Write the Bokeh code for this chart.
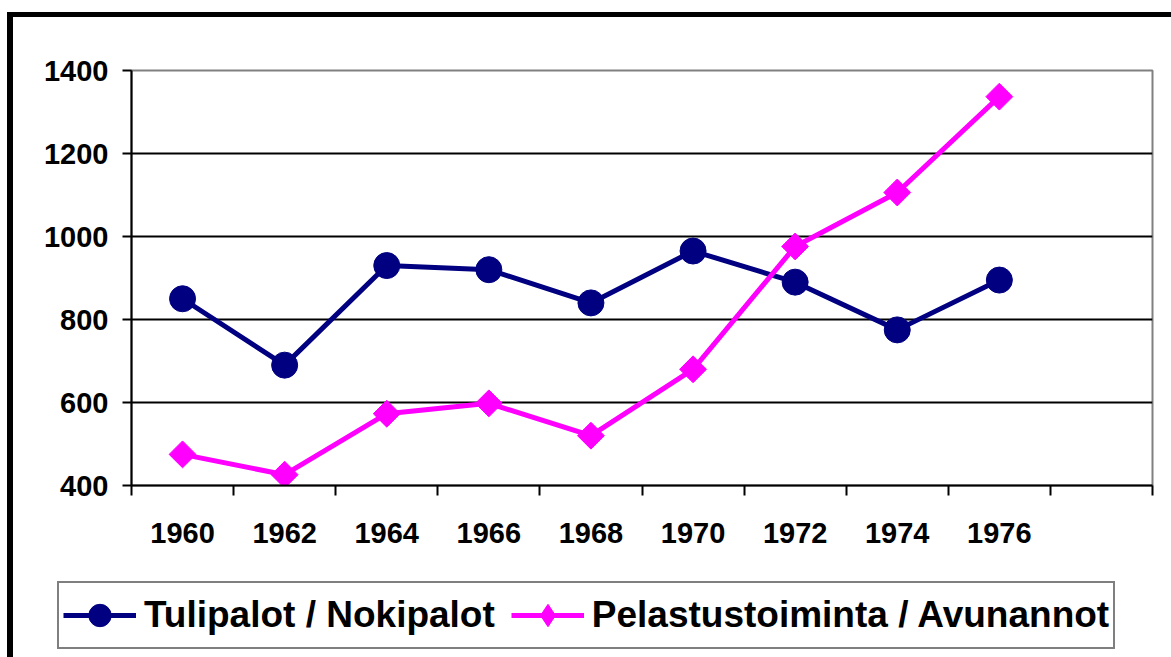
import math
from bokeh.plotting import figure
from bokeh.layouts import column
from bokeh.models import (Range1d, FixedTicker, Legend, LegendItem)
from bokeh.embed import file_html
from bokeh.resources import INLINE

years = ["1960", "1962", "1964", "1966", "1968", "1970", "1972", "1974", "1976"]
n_slots = 10
tulipalot = [850, 690, 930, 920, 840, 965, 890, 775, 895]
pelastus = [475, 426, 573, 598, 520, 680, 976, 1106, 1337]
y_ticks = [400, 600, 800, 1000, 1200, 1400]
labels = ["Tulipalot / Nokipalot", "Pelastustoiminta / Avunannot"]

xs = [i + 0.5 for i in range(len(years))]

FONT = "Liberation Sans"
navy = "#000080"
magenta = "#FF00FF"

p = figure(width=1158, height=558, output_backend="svg", toolbar_location=None,
           x_range=Range1d(0, n_slots), y_range=Range1d(y_ticks[0], y_ticks[-1]),
           min_border_left=118, min_border_top=53, min_border_right=19, min_border_bottom=90)
p.frame_align = False
p.background_fill_color = "white"
p.border_fill_color = "white"
p.outline_line_color = "#808080"
p.outline_line_width = 2

xa = p.xaxis[0]
xa.ticker = FixedTicker(ticks=xs, minor_ticks=list(range(n_slots + 1)))
xa.major_label_overrides = {x: y for x, y in zip(xs, years)}
xa.major_tick_out = 0
xa.major_tick_in = 0
xa.minor_tick_out = 10
xa.minor_tick_in = 0
xa.minor_tick_line_color = "black"
xa.minor_tick_line_width = 2
xa.axis_line_color = "black"
xa.axis_line_width = 2
xa.major_label_text_font = FONT
xa.major_label_text_font_style = "bold"
xa.major_label_text_font_size = "29px"
xa.major_label_text_color = "black"
xa.major_label_standoff = 27

ya = p.yaxis[0]
ya.ticker = FixedTicker(ticks=y_ticks)
ya.major_tick_out = 9
ya.major_tick_in = 0
ya.minor_tick_out = 0
ya.minor_tick_in = 0
ya.major_tick_line_color = "black"
ya.major_tick_line_width = 2
ya.axis_line_color = "black"
ya.axis_line_width = 2
ya.major_label_text_font = FONT
ya.major_label_text_font_style = "bold"
ya.major_label_text_font_size = "29px"
ya.major_label_text_color = "black"
ya.major_label_standoff = 14

p.xgrid.visible = False
p.ygrid.ticker = FixedTicker(ticks=y_ticks[1:-1])
p.ygrid.grid_line_color = "black"
p.ygrid.grid_line_width = 2

p.line(xs, tulipalot, line_color=navy, line_width=5)
p.scatter(xs, tulipalot, marker="circle", size=26, fill_color=navy, line_color=navy)
p.line(xs, pelastus, line_color=magenta, line_width=5)
p.scatter(xs, pelastus, marker="square", angle=math.pi / 4, size=19,
          fill_color=magenta, line_color=magenta)

# legend strip below the chart
pl = figure(width=1158, height=82, output_backend="svg", toolbar_location=None,
            x_axis_location=None, y_axis_location=None,
            x_range=Range1d(0, n_slots), y_range=Range1d(y_ticks[0], y_ticks[-1]),
            min_border_left=0, min_border_top=0, min_border_right=0, min_border_bottom=0)
pl.frame_align = False
pl.outline_line_color = None
pl.grid.visible = False
pl.background_fill_color = "white"
pl.border_fill_color = "white"

r1l = pl.line(xs, tulipalot, line_color=navy, line_width=5, visible=False)
r1m = pl.scatter(xs, tulipalot, marker="circle", fill_color=navy, line_color=navy, visible=False)
r2l = pl.line(xs, pelastus, line_color=magenta, line_width=5, visible=False)
r2m = pl.scatter(xs, pelastus, marker="diamond", fill_color=magenta, line_color=magenta, visible=False)

legend = Legend(items=[LegendItem(label=labels[0], renderers=[r1l, r1m]),
                       LegendItem(label=labels[1], renderers=[r2l, r2m])],
                orientation="horizontal", location=(44, 8))
legend.label_text_font = FONT
legend.label_text_font_style = "bold"
legend.label_text_font_size = "37px"
legend.label_text_color = "black"
legend.border_line_color = "black"
legend.border_line_width = 2
legend.background_fill_alpha = 1
legend.glyph_width = 73
legend.glyph_height = 56
legend.label_standoff = 8
legend.spacing = 16
legend.padding = 4
legend.margin = 0
pl.add_layout(legend, "center")

layout = column(p, pl, spacing=0,
                styles={"margin-left": "7px", "margin-top": "12px",
                        "border-left": "6px solid black", "border-top": "5px solid black"})

open("out.html", "w").write(file_html(layout, INLINE))
